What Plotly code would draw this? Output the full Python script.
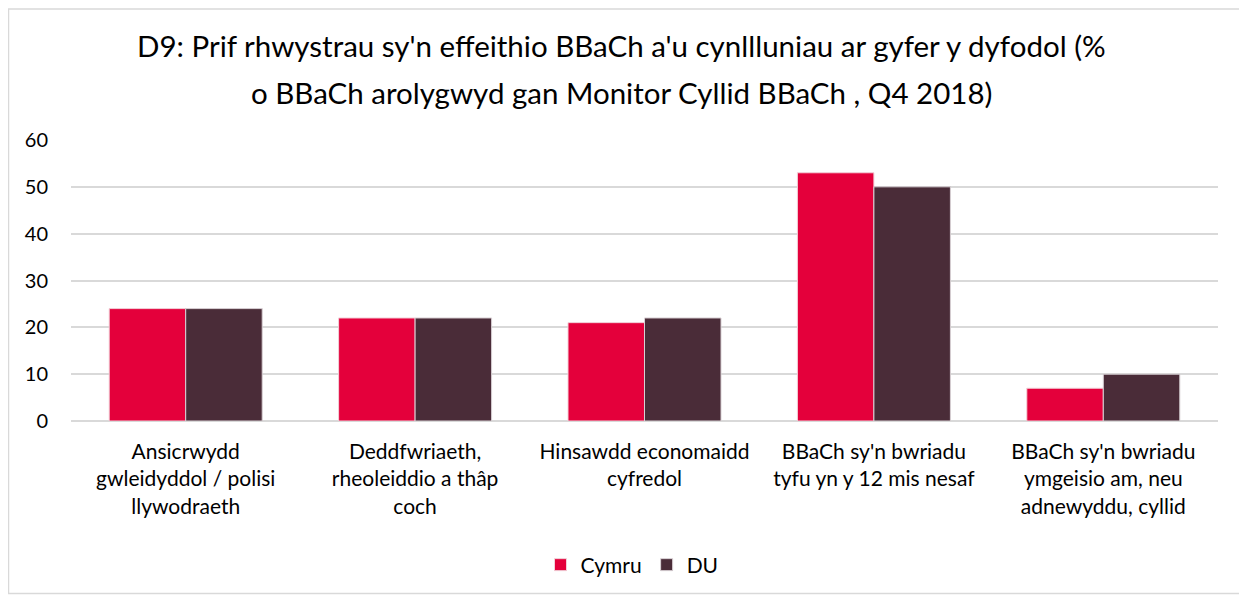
import plotly.graph_objects as go

categories = [
    "Ansicrwydd<br>gwleidyddol / polisi<br>llywodraeth",
    "Deddfwriaeth,<br>rheoleiddio a thâp<br>coch",
    "Hinsawdd economaidd<br>cyfredol",
    "BBaCh sy'n bwriadu<br>tyfu yn y 12 mis nesaf",
    "BBaCh sy'n bwriadu<br>ymgeisio am, neu<br>adnewyddu, cyllid",
]
cymru = [24, 22, 21, 53, 7]
du = [24, 22, 22, 50, 10]
title_lines = [
    "D9: Prif rhwystrau sy'n effeithio BBaCh a'u cynllluniau ar gyfer y dyfodol (%",
    "o BBaCh arolygwyd gan Monitor Cyllid BBaCh , Q4 2018)",
]

FONT = "Lato, Open Sans, sans-serif"
# page body has an 8px margin, so the figure is drawn 8px smaller and offset
OFF = 8
W, H = 1247 - OFF, 596 - OFF
ml, mt = 71 - OFF, 140 - OFF
mr = W - (1218 - OFF)
mb = H - (422 - OFF)
pw, ph = W - ml - mr, H - mt - mb

fig = go.Figure()
fig.add_trace(go.Bar(name="Cymru", x=categories, y=cymru,
                     marker=dict(color="#E4003B", line=dict(color="#F2D0D8", width=1))))
fig.add_trace(go.Bar(name="DU", x=categories, y=du,
                     marker=dict(color="#4A2C38", line=dict(color="#D8D0D4", width=1))))


def px_x(x_abs):
    return (x_abs - OFF - ml) / pw


def px_y(y_abs):
    return (H - mb - (y_abs - OFF)) / ph


annotations = []
for line, ypx in zip(title_lines, [45, 92]):
    annotations.append(dict(text=line, x=px_x(621), xref="paper", y=px_y(ypx), yref="paper",
                            xanchor="center", yanchor="middle", showarrow=False,
                            font=dict(family=FONT, size=29.5, color="#000000")))

fig.update_layout(
    width=W, height=H,
    margin=dict(l=ml, r=mr, t=mt, b=mb),
    paper_bgcolor="white", plot_bgcolor="white",
    barmode="group", bargap=0.333, bargroupgap=0,
    font=dict(family=FONT, size=21, color="#000000"),
    annotations=annotations,
    showlegend=True,
    legend=dict(orientation="h", x=px_x(632), xanchor="center", y=px_y(565), yanchor="middle",
                font=dict(family=FONT, size=21), itemwidth=30, traceorder="normal"),
    shapes=[dict(type="rect", xref="paper", yref="paper",
                 x0=px_x(8.5), x1=px_x(1246), y0=px_y(595), y1=px_y(8.5),
                 line=dict(color="#D9D9D9", width=1.5), layer="below")],
    xaxis=dict(showgrid=False, showline=False, ticks="", tickfont=dict(size=21), ticklabelstandoff=16),
    yaxis=dict(range=[0, 60], dtick=10, showgrid=True, gridcolor="#D9D9D9", gridwidth=1.5,
               zeroline=True, zerolinecolor="#D9D9D9", zerolinewidth=1.5,
               showline=False, ticks="", tickfont=dict(size=20), ticklabelstandoff=22),
)

fig.write_html("out.html")
